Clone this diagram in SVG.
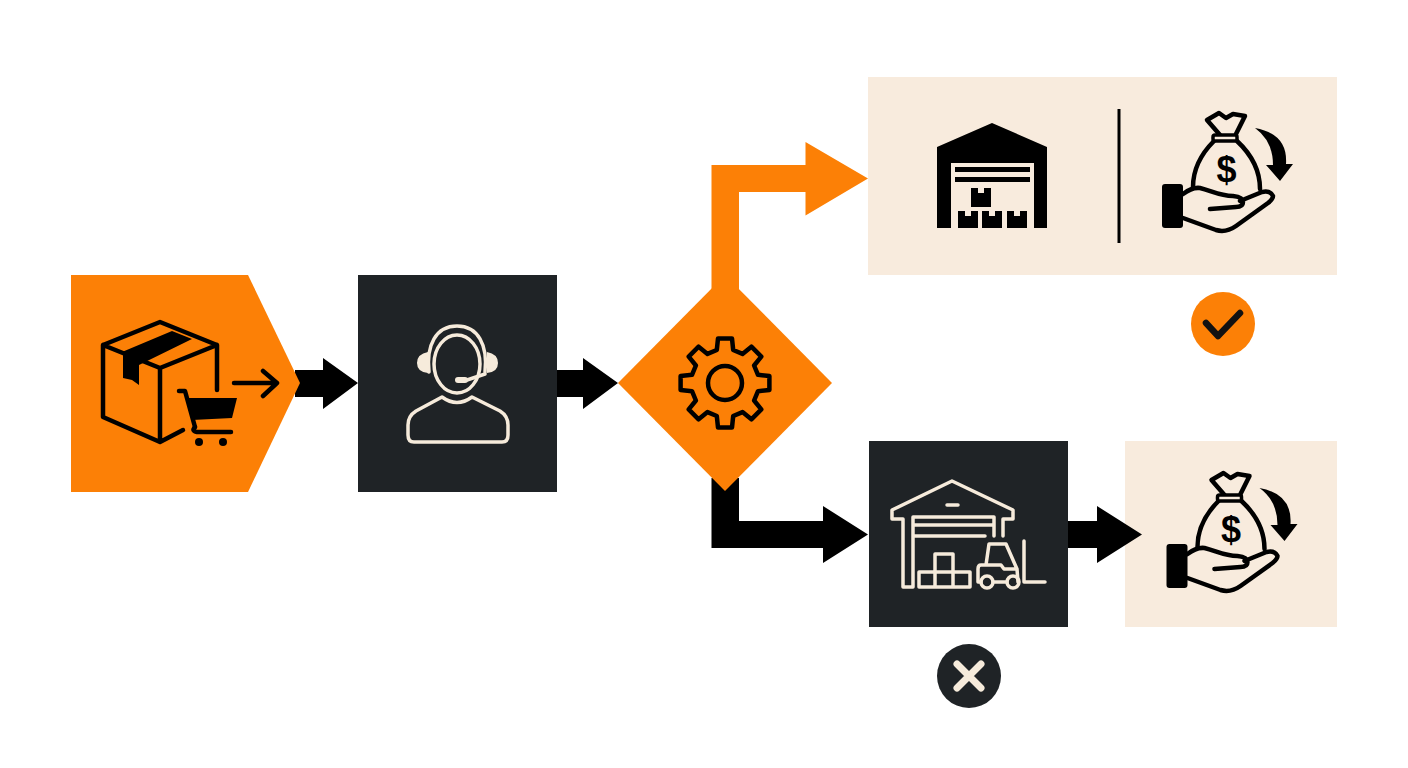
<svg xmlns="http://www.w3.org/2000/svg" width="1408" height="768" viewBox="0 0 1408 768">
<style>
.bk{fill:none;stroke:#000;stroke-width:4.5;stroke-linejoin:round;stroke-linecap:round}
.cr{fill:none;stroke:#f6ebdb;stroke-width:3.5;stroke-linejoin:round;stroke-linecap:round}
.fk{fill:#000}
.fc{fill:#f6ebdb}
.or{fill:#fc8006}
.dk{fill:#1f2326}
.pl{fill:#f8ebdd}
</style>
<defs>
<g id="money">
<path class="bk" d="M1214 141C1200 155 1193 170 1193 187M1237 141C1252 155 1260 170 1260 189"/>
<path class="bk" d="M1220 135L1207 120L1219 113L1226 118L1233 114L1245 116L1236 134"/>
<rect x="1213" y="135" width="24" height="6" rx="2" fill="#f8ebdd" stroke="#000" stroke-width="3.5"/>
<text x="1226.5" y="182" text-anchor="middle" font-family="'Liberation Sans',Arial,sans-serif" font-weight="700" font-size="36" fill="#000">$</text>
<path class="bk" d="M1183 194Q1192 187 1200 188C1212 191 1220 196 1233 196Q1243 197 1243 202Q1243 207 1236 207L1210 209M1240 201L1262 192Q1270 190 1273 196Q1273 199 1268 203L1236 226Q1226 233 1216 230L1183 218"/>
<rect x="1162" y="184" width="21" height="44" rx="3" class="fk"/>
<path class="fk" d="M1255 128Q1288 134 1286 164L1293 164L1280 181L1266 165L1273 165Q1273 141 1255 128Z"/>
</g>
</defs>
<rect width="1408" height="768" fill="#ffffff"/>
<g id="node-support">
<rect class="dk" x="358" y="275" width="199" height="217"/>
<ellipse class="cr" cx="457" cy="364" rx="23" ry="29"/>
<path class="cr" d="M429 372C426 345 436 326 457 326C478 326 488 345 485 372"/>
<path class="fc" d="M428 352Q417 354 417 363Q417 372 428 373ZM487 352Q498 354 498 363Q498 372 487 373Z"/>
<path class="cr" d="M485 374L467 380"/>
<rect class="fc" x="455" y="377" width="13" height="6" rx="3"/>
<path class="cr" d="M442 397Q457 408 472 397L500 411Q508 416 508 425L508 435Q508 442 502 442H414Q408 442 408 435L408 425Q408 416 416 411Z"/>
</g>
<g id="node-restock-refund">
<rect class="pl" x="868" y="77" width="469" height="198"/>
<path class="fk" d="M937 147L992 123L1047 147V228H1034V163H951V228H937Z"/>
<rect class="fk" x="955" y="167" width="75" height="5"/>
<rect class="fk" x="955" y="177" width="75" height="5"/>
<path class="fk" d="M971 188H978V193H984V188H991V207H971Z"/>
<path class="fk" d="M958 211H965V216H971V211H978V228H958Z"/>
<path class="fk" d="M982 211H989V216H995V211H1002V228H982Z"/>
<path class="fk" d="M1007 211H1014V216H1020V211H1027V228H1007Z"/>
<rect class="fk" x="1117.5" y="109" width="3" height="134"/>
<use href="#money"/>
</g>
<g id="node-warehouse">
<rect class="dk" x="869" y="441" width="199" height="186"/>
<path class="cr" d="M903 519H892V510L952 481L1013 510V519H1003V536M903 519V587H913V517H994V536M913 525H992M913 536H985"/>
<path class="cr" d="M947 505H958" stroke-width="4"/>
<path class="cr" d="M919 572H970V587H919ZM935 572V587M953 572V587M935 572V554H953V572"/>
<path class="cr" d="M986 565L989 544H1006L1017 569L1018 582M981 565H1001L1004 569H1017M981 565Q978 565 978 569V582H981M993 582H1007M1024 541V582H1045"/>
<circle class="cr" cx="987" cy="582" r="6"/><circle class="cr" cx="1013" cy="582" r="6"/>
</g>
<g id="node-refund">
<rect class="pl" x="1125" y="441" width="212" height="186"/>
<use href="#money" transform="translate(4.5 360)"/>
</g>
<g id="connectors">
<path class="or" d="M711.5 292V165H805.5V142L868 178.5L805.5 215.5V192H739V292Z"/>
<path class="fk" d="M711.5 478V548H823V563L868 534.5L823 506V521H739V478Z"/>
<path class="fk" d="M295 370H323V358L358 383L323 409V397H295Z"/>
<path class="fk" d="M557 370H583V358L618 383L583 409V397H557Z"/>
<path class="fk" d="M1068 521H1097V506L1142 534.5L1097 563V548H1068Z"/>
</g>
<g id="node-order">
<path class="or" d="M71 275H248L300 383L248 492H71Z"/>
<path class="bk" d="M217 390V345L160 322L103 345V417L160 442L183 430M103 345L160 368L217 345M160 368V442"/>
<path class="fk" d="M122 352L172 331L192 339L139 365V385L132 380L123 378V355Z"/>
<path class="bk" d="M234 383H277M263 371L277 383L263 396" stroke-width="3.5"/>
<path class="bk" d="M179 391H185L195 427" stroke-width="3.5"/>
<path class="fk" d="M187 398H237L232 418L192 420Z"/>
<path class="bk" d="M197 432H231M195 427Q191 431 197 432" stroke-width="3.5"/>
<circle class="fk" cx="199" cy="442" r="4"/><circle class="fk" cx="223" cy="442" r="4"/>
</g>
<g id="node-decision">
<path class="or" d="M725 275L832 383L725 491L618 383Z"/>
<path class="bk" transform="translate(725 383)" stroke-width="3.5" d="M33 -8.2L44.4 -7L44.4 7L33 8.2L29.1 17.5L36.3 26.4L26.4 36.3L17.5 29.1L8.2 33L7 44.4L-7 44.4L-8.2 33L-17.5 29.1L-26.4 36.3L-36.3 26.4L-29.1 17.5L-33 8.2L-44.4 7L-44.4 -7L-33 -8.2L-29.1 -17.5L-36.3 -26.4L-26.4 -36.3L-17.5 -29.1L-8.2 -33L-7 -44.4L7 -44.4L8.2 -33L17.5 -29.1L26.4 -36.3L36.3 -26.4L29.1 -17.5Z"/>
<circle class="bk" cx="725" cy="383" r="17" stroke-width="3.5"/>
</g>
<g id="badge-ok">
<circle class="or" cx="1223" cy="324" r="32"/>
<path fill="none" stroke="#111" stroke-width="6.5" stroke-linecap="round" stroke-linejoin="round" d="M1206 323L1218 336L1240 313"/>
</g>
<g id="badge-no">
<circle class="dk" cx="969" cy="676" r="32"/>
<path fill="none" stroke="#f6ebdb" stroke-width="7" stroke-linecap="round" d="M957 664L981 688M981 664L957 688"/>
</g>
</svg>
